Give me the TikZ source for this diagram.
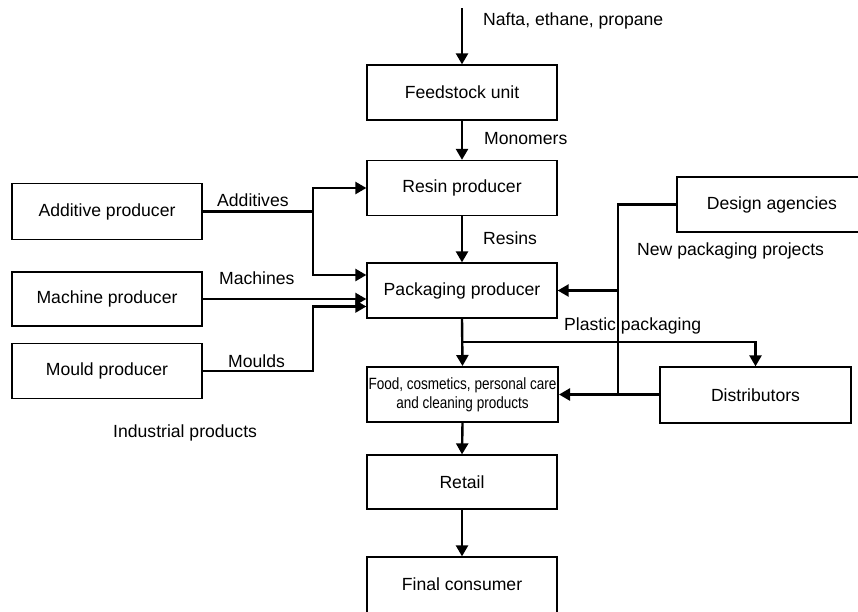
\documentclass[tikz,border=0pt]{standalone}
\usepackage{fontspec}
\setmainfont{Liberation Sans}
\newfontfamily\narrowfont[FakeStretch=0.83]{Liberation Sans}
\usetikzlibrary{arrows.meta}
\tikzset{
  box/.style={draw, line width=1.3pt, minimum width=190pt, minimum height=55pt, inner sep=0pt, font=\fontsize{17.6}{20}\selectfont},
  flow/.style={line width=2.4pt, -{Triangle[length=11pt,width=12pt]}},
  link/.style={line width=2.4pt},
  lbl/.style={anchor=west, inner sep=0pt, font=\fontsize{17.6}{20}\selectfont}
}
\begin{document}
\begin{tikzpicture}[x=1pt,y=-1pt]
\clip (0,0) rectangle (858,611);
\fill[white] (0,0) rectangle (858,611);
% main column
\node[box] (feed) at (462,92.5) {Feedstock unit};
\node[box] (resin) at (462,188) {Resin producer};
\node[box] (pack) at (462,290.5) {Packaging producer};
\node[box, line width=2pt, minimum width=191pt] (food) at (462.5,394.5) {\narrowfont\fontsize{16.3}{20}\selectfont\begin{tabular}{@{}c@{}}Food, cosmetics, personal care\\[-1pt] and cleaning products\end{tabular}};
\node[box, minimum height=54pt] (retail) at (462,482) {Retail};
\node[box, minimum height=64pt, text depth=9pt] (final) at (462,589) {Final consumer};
% left column
\node[box, minimum height=56pt] (add) at (107,211.5) {Additive producer};
\node[box, minimum height=54pt] (mach) at (107,299) {Machine producer};
\node[box] (mould) at (107,371) {Mould producer};
% right column
\node[box] (design) at (772,204.5) {Design agencies};
\node[box, minimum width=191pt, minimum height=56pt] (dist) at (755.5,395) {Distributors};
% coordinates
\coordinate (in) at (462,8);
\coordinate (lj) at (313,0);
\coordinate (dj) at (618,0);
\coordinate (pj) at (0,342);
\coordinate (pa) at ([yshift=15.5pt]pack.west);
\coordinate (pm) at ([yshift=-16pt]pack.west);
% connectors
\draw[flow] (in) -- (feed.north);
\draw[flow] (feed.south) -- (resin.north);
\draw[flow] (resin.south) -- (pack.north);
\draw[link] (add.east) -- (lj |- add.east);
\draw[flow] (lj |- add.east) |- (resin.west);
\draw[flow] (lj |- add.east) |- (pa);
\draw[flow] (mach.east) -- (mach.east -| pack.west);
\draw[flow] (mould.east) -| (lj |- pm) -- (pm);
\draw[link] (design.west) -| (dj |- food.east);
\draw[flow] (dj |- pack.east) -- (pack.east);
\draw[flow] (dist.west |- food.east) -- (food.east);
\draw[flow] (pack.south) -- (food.north);
\draw[flow] (pack.south |- pj) -| (dist.north);
\draw[flow] (food.south) -- (retail.north);
\draw[flow] (retail.south) -- (final.north);
% labels
\node[lbl] (l1) at (483,21) {Nafta, ethane, propane};
\node[lbl] (l2) at (484,139) {Monomers};
\node[lbl] (l3) at (483,238) {Resins};
\node[lbl] (l4) at (217,200) {Additives};
\node[lbl] (l5) at (219,278) {Machines};
\node[lbl] (l6) at (228,361) {Moulds};
\node[lbl] (l7) at (113,433) {Industrial products};
\node[lbl] (l8) at (637,251) {New packaging projects};
\node[lbl] (l9) at (564,326) {Plastic packaging};
\end{tikzpicture}
\end{document}
